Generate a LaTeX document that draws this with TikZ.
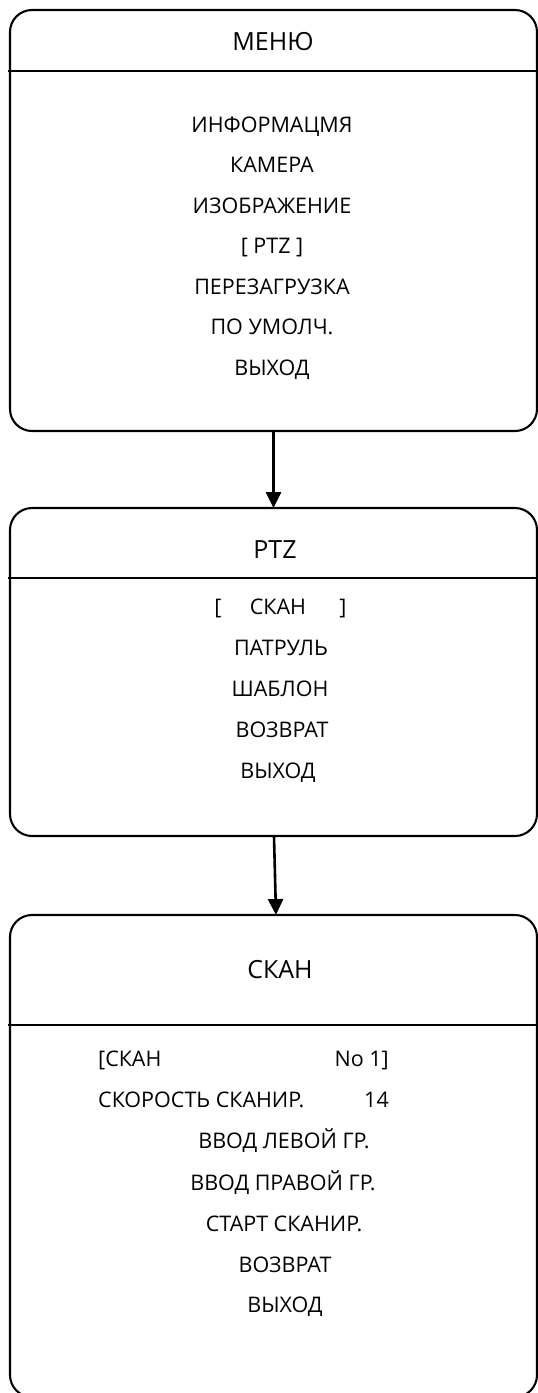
\documentclass[tikz,border=0pt]{standalone}
\usepackage{fontspec}
\setmainfont{Open Sans}
\usetikzlibrary{arrows.meta}
\begin{document}
\begin{tikzpicture}[x=1pt,y=-1pt,
  box/.style={draw, line width=2.1pt, rounded corners=22pt, minimum width=527pt, inner sep=0pt, outer sep=0pt},
  sep/.style={line width=1.8pt},
  item/.style={font=\fontsize{21.5}{25}\selectfont, inner sep=0pt, anchor=base},
  itemw/.style={item, anchor=base west},
  iteme/.style={item, anchor=base east},
  ttl/.style={font=\fontsize{25}{29}\selectfont, inner sep=0pt, anchor=base},
  arr/.style={line width=2.6pt, -{Triangle[length=16pt,width=15pt]}}]
\useasboundingbox (0,0) rectangle (538,1393);
% boxes
\node[box, minimum height=421pt] (b1) at (273.5,220.5) {};
\node[box, minimum height=328pt] (b2) at (273.5,672) {};
\node[box, minimum height=482pt] (b3) at (273.5,1156) {};
% dividers
\draw[sep] (8,71) -- (537,71);
\draw[sep] (8,578) -- (537,578);
\draw[sep] (8,1025) -- (537,1025);
% box 1
\node[ttl] (t1) at (273,50) {МЕНЮ};
\node[item] (m1) at (272,132) {ИНФОРМАЦМЯ};
\node[item] (m2) at (272,172.5) {КАМЕРА};
\node[item] (m3) at (272,213) {ИЗОБРАЖЕНИЕ};
\node[item] (m4) at (272,253.5) {[ PTZ ]};
\node[item] (m5) at (272,294) {ПЕРЕЗАГРУЗКА};
\node[item] (m6) at (272,334.5) {ПО УМОЛЧ.};
\node[item] (m7) at (272,375) {ВЫХОД};
% box 2
\node[ttl] (t2) at (275,558) {PTZ};
\node[item] (p1a) at (218,614) {[};
\node[item] (p1) at (278,614) {СКАН};
\node[item] (p1b) at (343,614) {]};
\node[item] (p2) at (281,655) {ПАТРУЛЬ};
\node[item] (p3) at (280,696) {ШАБЛОН};
\node[item] (p4) at (282,737) {ВОЗВРАТ};
\node[item] (p5) at (278,778) {ВЫХОД};
% box 3
\node[ttl] (t3) at (280,978.5) {СКАН};
\node[itemw] (s1a) at (98,1066.5) {[СКАН};
\node[iteme] (s1b) at (389,1066.5) {No 1]};
\node[itemw] (s2a) at (98,1107.5) {СКОРОСТЬ СКАНИР.};
\node[iteme] (s2b) at (389,1107.5) {14};
\node[item] (s3) at (284,1148.5) {ВВОД ЛЕВОЙ ГР.};
\node[item] (s4) at (283,1190) {ВВОД ПРАВОЙ ГР.};
\node[item] (s5) at (284,1231.5) {СТАРТ СКАНИР.};
\node[item] (s6) at (285,1272.5) {ВОЗВРАТ};
\node[item] (s7) at (285,1312) {ВЫХОД};
% arrows
\draw[arr] (b1.south) -- (b2.north);
\draw[arr] ([xshift=0.5pt]b2.south) -- ([xshift=2.5pt]b3.north);
\end{tikzpicture}
\end{document}
